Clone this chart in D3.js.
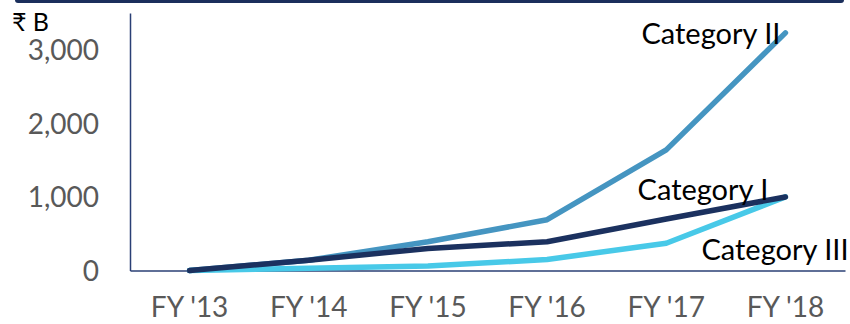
<!DOCTYPE html>
<html>
<head>
<meta charset="utf-8">
<script src="https://cdn.jsdelivr.net/npm/d3@7/dist/d3.min.js"></script>
<style>
  html, body { margin: 0; padding: 0; background: #fff; }
  svg { display: block; }
  .tick text { font-family: Lato, "Open Sans", sans-serif; fill: #595959; }
</style>
</head>
<body>
<svg id="chart" width="850" height="324"></svg>
<script>
// Fiscal years on the category axis
const years = ["FY '13", "FY '14", "FY '15", "FY '16", "FY '17", "FY '18"];
// Series values, in ₹ billions
const categoryI   = [0, 140, 300, 390, 700, 1000];
const categoryII  = [0, 140, 390, 690, 1640, 3230];
const categoryIII = [0, 30, 60, 150, 370, 1000];
const yTicks = [0, 1000, 2000, 3000];

const series = [
  { name: "Category II",  values: categoryII,  color: "#4595c1", dx: -5,   dy: 11, anchor: "end" },
  { name: "Category I",   values: categoryI,   color: "#1b315f", dx: -17,  dy: 3,  anchor: "end" },
  { name: "Category III", values: categoryIII, color: "#48c9e8", dx: -84,  dy: 63, anchor: "start" }
];

const svg = d3.select("#chart");
const plotLeft = 130, plotRight = 845, plotTop = 13, plotBottom = 270.5;

const x = d3.scaleBand().domain(years).range([plotLeft, plotRight]);
const y = d3.scaleLinear().domain([0, 3500]).range([plotBottom, plotTop]);

// header rule
svg.append("rect")
  .attr("x", 15).attr("y", -4).attr("width", 829).attr("height", 7)
  .attr("rx", 3).attr("fill", "#1b2f5c");

// y axis
const yAxis = svg.append("g")
  .attr("transform", `translate(${plotLeft},0)`)
  .call(d3.axisLeft(y).tickValues(yTicks).tickSize(0).tickPadding(31)
        .tickFormat(d3.format(",")));
yAxis.select(".domain").attr("stroke", "#2a3f75").attr("stroke-width", 1.5);
yAxis.selectAll(".tick text").attr("font-size", 28).attr("dy", "0.35em");

// x axis
const xAxis = svg.append("g")
  .attr("transform", `translate(0,${plotBottom})`)
  .call(d3.axisBottom(x).tickSize(0).tickPadding(27));
xAxis.select(".domain").attr("stroke", "#2a3f75").attr("stroke-width", 1.5);
xAxis.selectAll(".tick text").attr("font-size", 28);

// unit label
svg.append("text")
  .attr("x", 12).attr("y", 31)
  .attr("font-family", "Lato, 'Open Sans', sans-serif")
  .attr("font-size", 25).attr("fill", "#000")
  .text("₹ B");

const line = d3.line()
  .x((d, i) => x(years[i]) + x.bandwidth() / 2)
  .y(d => y(d));

// draw Category I on top, Category III above II near the origin
const drawOrder = [series[0], series[2], series[1]];
svg.selectAll("path.series")
  .data(drawOrder)
  .join("path")
  .attr("class", "series")
  .attr("d", d => line(d.values))
  .attr("fill", "none")
  .attr("stroke", d => d.color)
  .attr("stroke-width", 5.5)
  .attr("stroke-linecap", "round")
  .attr("stroke-linejoin", "round");

// series labels near the last point
svg.selectAll("text.series-label")
  .data(series)
  .join("text")
  .attr("class", "series-label")
  .attr("x", d => x(years[years.length - 1]) + x.bandwidth() / 2 + d.dx)
  .attr("y", d => y(d.values[d.values.length - 1]) + d.dy)
  .attr("text-anchor", d => d.anchor)
  .attr("font-family", "Lato, 'Open Sans', sans-serif")
  .attr("font-size", 29)
  .attr("fill", "#000")
  .text(d => d.name);
</script>
</body>
</html>
